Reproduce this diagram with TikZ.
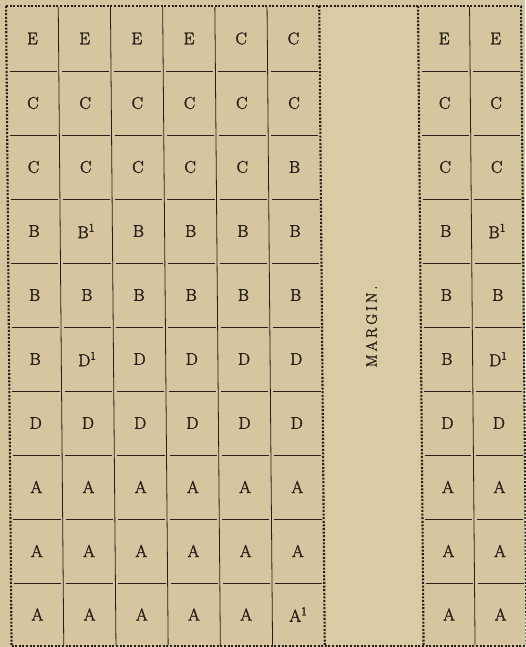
\documentclass[tikz,border=0pt]{standalone}
\usepackage{fontspec}
\setmainfont{Latin Modern Roman}[FakeBold=2.2]
\definecolor{paper}{RGB}{213,198,159}
\definecolor{paperlight}{RGB}{217,203,164}
\definecolor{ink}{RGB}{40,32,24}
\newcommand\Bone{B\textsuperscript{1}}
\newcommand\Done{D\textsuperscript{1}}
\newcommand\Aone{A\textsuperscript{1}}
\tikzset{
  dotline/.style={ink, line width=2.1pt, dash pattern=on 2pt off 1.6pt},
  colrule/.style={ink, line width=0.8pt},
  cellrule/.style={ink, line width=0.9pt},
  lab/.style={text=ink, font=\fontsize{17}{18}\selectfont, inner sep=0pt},
}
\begin{document}
\begin{tikzpicture}[x={(1pt,0pt)}, y={(0.0086pt,-1pt)}]
\useasboundingbox (0pt,0pt) rectangle (525pt,-647pt);
\fill[paper] (0pt,0pt) rectangle (525pt,-647pt);
\fill[paperlight] (321,8) -- (416,8) -- (416,644) -- (321,644) -- cycle;
% column rules
\foreach \xx in {58.2,110.4,162.6,214.8,267,469.5}
  \draw[colrule] (\xx,7) -- (\xx,645);
% cell rules
\foreach \yy in {71,135,199,263,327,391,455,519,583}
  \foreach \xl/\xr in {6/58.2,58.2/110.4,110.4/162.6,162.6/214.8,214.8/267,267/319.2,418/469.5,469.5/521}
    \draw[cellrule] (\xl+3,\yy) -- (\xr-2,\yy);
% dotted frame
\draw[dotline] (6,6) -- (521,6);
\draw[dotline] (6,646) -- (521,646);
\foreach \xx in {6,319.2,418,521}
  \draw[dotline] (\xx,6) -- (\xx,646);
% letters
\foreach \yt/\yb/\labs [count=\r] in {
  6/71/{E,E,E,E,C,C,E,E},
  71/135/{C,C,C,C,C,C,C,C},
  135/199/{C,C,C,C,C,B,C,C},
  199/263/{B,\Bone,B,B,B,B,B,\Bone},
  263/327/{B,B,B,B,B,B,B,B},
  327/391/{B,\Done,D,D,D,D,B,\Done},
  391/455/{D,D,D,D,D,D,D,D},
  455/519/{A,A,A,A,A,A,A,A},
  519/583/{A,A,A,A,A,A,A,A},
  583/646/{A,A,A,A,A,\Aone,A,A}}
{
  \pgfmathsetmacro\yc{(\yt+\yb)/2}
  \foreach \lab [count=\c] in \labs {
    \pgfmathsetmacro\xc{\c<7 ? 6+52.2*(\c-0.5) : (\c==7 ? 443.75 : 495.25)}
    \node[lab] (n-\r-\c) at (\xc,\yc) {\lab};
  }
}
\node[lab, rotate=90, font=\fontsize{15}{16}\selectfont] (margin) at (368.7,326.5)
  {M\hspace{3pt}A\hspace{3pt}R\hspace{3pt}G\hspace{3pt}I\hspace{3pt}N\hspace{3pt}.};
\end{tikzpicture}
\end{document}
